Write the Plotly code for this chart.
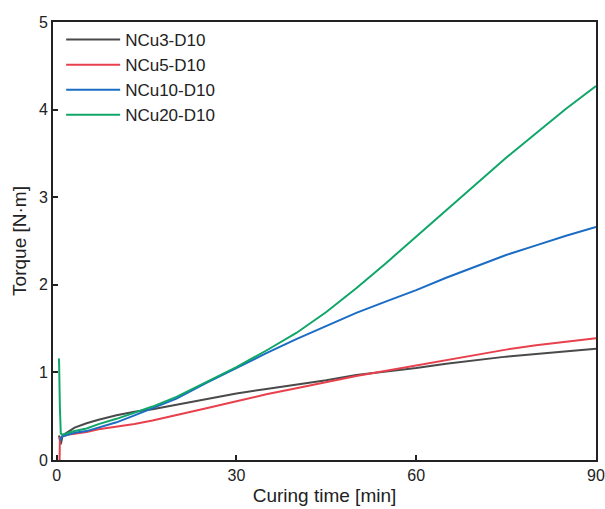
import plotly.graph_objects as go

names = ["NCu3-D10", "NCu5-D10", "NCu10-D10", "NCu20-D10"]
colors = ["#4a4a4a", "#e8404c", "#1a6cc4", "#10a66a"]

t_gray = [0.4, 0.7, 1.0, 2, 3, 5, 7, 10, 13, 16, 20, 25, 30, 35, 40, 45, 50, 55, 60, 65, 70, 75, 80, 85, 90]
v_gray = [0.28, 0.18, 0.28, 0.33, 0.37, 0.42, 0.46, 0.51, 0.55, 0.58, 0.63, 0.70, 0.76, 0.81, 0.86, 0.91, 0.97, 1.01, 1.05, 1.10, 1.14, 1.18, 1.21, 1.24, 1.27]

t_red = [0.5, 0.55, 1.0, 2, 3, 5, 7, 10, 13, 16, 20, 25, 30, 35, 40, 45, 50, 55, 60, 65, 70, 75, 80, 85, 90]
v_red = [0.0, 0.25, 0.27, 0.29, 0.30, 0.32, 0.35, 0.38, 0.41, 0.45, 0.51, 0.59, 0.67, 0.75, 0.82, 0.89, 0.96, 1.02, 1.08, 1.14, 1.20, 1.26, 1.31, 1.35, 1.39]

t_blue = [0.6, 0.8, 1.0, 2, 3, 5, 7, 10, 13, 16, 20, 25, 30, 35, 40, 45, 50, 55, 60, 65, 70, 75, 80, 85, 90]
v_blue = [0.22, 0.26, 0.27, 0.29, 0.31, 0.33, 0.37, 0.43, 0.51, 0.59, 0.70, 0.88, 1.05, 1.22, 1.38, 1.53, 1.68, 1.81, 1.94, 2.08, 2.21, 2.34, 2.45, 2.56, 2.66]

t_green = [0.38, 0.42, 0.55, 0.7, 1.0, 2, 3, 5, 7, 10, 13, 16, 20, 25, 30, 35, 40, 45, 50, 55, 60, 65, 70, 75, 80, 85, 90]
v_green = [1.16, 1.10, 0.6, 0.30, 0.29, 0.31, 0.33, 0.36, 0.41, 0.47, 0.54, 0.61, 0.72, 0.89, 1.06, 1.25, 1.45, 1.69, 1.96, 2.25, 2.55, 2.85, 3.15, 3.45, 3.73, 4.01, 4.27]

series = [(t_gray, v_gray), (t_red, v_red), (t_blue, v_blue), (t_green, v_green)]

fig = go.Figure()
for (t, v), n, c in zip(series, names, colors):
    fig.add_trace(go.Scatter(x=t, y=v, mode="lines", name=n,
                             line=dict(color=c, width=2)))

font = dict(family="Liberation Sans, Arial, sans-serif", size=16, color="#222")
fig.update_layout(
    width=605, height=509,
    margin=dict(l=53, r=9, t=22, b=49, autoexpand=False),
    paper_bgcolor="white", plot_bgcolor="white",
    font=font,
    showlegend=True,
    legend=dict(x=0.015, y=1.0, xanchor="left", yanchor="top",
                bgcolor="rgba(0,0,0,0)", font=dict(size=17),
                tracegroupgap=0, itemwidth=54),
)
fig.update_xaxes(range=[-0.6, 90], tickvals=[0, 30, 60, 90],
                 ticks="inside", ticklen=5, tickwidth=1.5, tickcolor="#222",
                 showline=True, linecolor="#222", linewidth=1.8, mirror=True,
                 showgrid=False, zeroline=False, automargin=True,
                 title=dict(text="Curing time [min]", standoff=6))
fig.update_yaxes(range=[0, 5], tickvals=[0, 1, 2, 3, 4, 5],
                 ticks="inside", ticklen=5, tickwidth=1.5, tickcolor="#222",
                 showline=True, linecolor="#222", linewidth=1.8, mirror=True,
                 showgrid=False, zeroline=False, automargin=True,
                 title=dict(text="Torque [N·m]", standoff=7))
fig.write_html("out.html")
